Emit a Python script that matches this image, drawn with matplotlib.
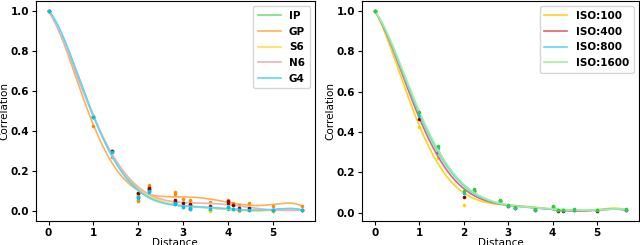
import numpy as np
import matplotlib
matplotlib.use('Agg')
import matplotlib.pyplot as plt

# squared pixel offsets -> distances
sq_left = [0, 1, 2, 4, 4, 5, 5, 8, 8, 9, 10, 10, 13, 16, 16, 17, 18, 20, 25, 32]
sq_right = [0, 1, 2, 4, 5, 8, 9, 10, 13, 16, 17, 18, 20, 25, 32]

ip = [1.0, 0.475, 0.30, 0.075, 0.07, 0.105, 0.10, 0.04, 0.035, 0.02, 0.015, 0.012, 0.005, 0.015, 0.012, 0.008, 0.003, 0.005, 0.002, 0.005]
gp = [1.0, 0.425, 0.27, 0.05, 0.055, 0.13, 0.12, 0.095, 0.085, 0.06, 0.055, 0.05, 0.045, 0.055, 0.05, 0.04, 0.03, 0.038, 0.025, 0.025]
s6 = [1.0, 0.475, 0.30, 0.085, 0.08, 0.11, 0.105, 0.045, 0.04, 0.025, 0.012, 0.008, 0.0, 0.02, 0.018, 0.008, 0.0, 0.003, 0.0, 0.005]
n6 = [1.0, 0.47, 0.30, 0.092, 0.088, 0.115, 0.11, 0.055, 0.045, 0.04, 0.035, 0.03, 0.025, 0.05, 0.04, 0.03, 0.015, 0.015, 0.005, 0.005]
g4 = [1.0, 0.47, 0.295, 0.068, 0.063, 0.10, 0.095, 0.04, 0.035, 0.022, 0.015, 0.012, 0.008, 0.02, 0.018, 0.01, 0.005, 0.005, 0.005, 0.005]

iso100 = [1.0, 0.425, 0.27, 0.04, 0.11, 0.06, 0.035, 0.025, 0.015, 0.03, 0.01, 0.012, 0.015, 0.012, 0.015]
iso400 = [1.0, 0.465, 0.30, 0.08, 0.11, 0.06, 0.035, 0.025, 0.015, 0.025, 0.01, 0.01, 0.015, 0.01, 0.012]
iso800 = [1.0, 0.485, 0.32, 0.10, 0.115, 0.06, 0.035, 0.025, 0.015, 0.028, 0.012, 0.012, 0.015, 0.012, 0.015]
iso1600 = [1.0, 0.50, 0.33, 0.11, 0.12, 0.062, 0.037, 0.027, 0.017, 0.032, 0.013, 0.013, 0.017, 0.013, 0.017]

left_series = [('IP', ip, '#7ddc7d', 'limegreen'),
               ('GP', gp, '#ffb05a', 'darkorange'),
               ('S6', s6, '#ffe04a', 'gold'),
               ('N6', n6, '#e8b4b4', 'darkred'),
               ('G4', g4, '#5fd4ff', 'deepskyblue')]
right_series = [('ISO:100', iso100, '#ffd21f', 'gold'),
                ('ISO:400', iso400, '#e06666', 'darkred'),
                ('ISO:800', iso800, '#5fd4ff', 'deepskyblue'),
                ('ISO:1600', iso1600, '#9ef09e', 'limegreen')]

fig = plt.figure(figsize=(6.4, 2.45), dpi=100)
ax1 = fig.add_axes([0.056, 0.098, 0.436, 0.898])
ax2 = fig.add_axes([0.566, 0.098, 0.432, 0.898])


def draw_panel(ax, sq, series, deg):
    x = np.sqrt(sq)
    xs = np.linspace(x.min(), x.max(), 200)
    for name, vals, line_col, mark_col in series:
        coef = np.polyfit(x, vals, deg)
        ax.plot(xs, np.polyval(coef, xs), color=line_col, lw=1.2, label=name)
        ax.plot(x, vals, 'o', color=mark_col, ms=2.6, mew=0)
    ax.set_xlabel('Distance', fontsize=7.5, labelpad=0)
    ax.set_ylabel('Correlation', fontsize=7.5, labelpad=1)
    ax.set_xticks([0, 1, 2, 3, 4, 5])
    ax.set_yticks([0.0, 0.2, 0.4, 0.6, 0.8, 1.0])
    ax.tick_params(labelsize=7.5, length=3, pad=2)
    for lab in ax.get_xticklabels() + ax.get_yticklabels():
        lab.set_fontweight('bold')
    ax.legend(loc='upper right', prop={'weight': 'bold', 'size': 7.5},
              handlelength=2.2, labelspacing=0.55, borderpad=0.45)


draw_panel(ax1, sq_left, left_series, 6)
draw_panel(ax2, sq_right, right_series, 6)

plt.savefig('out.png', dpi=100)
